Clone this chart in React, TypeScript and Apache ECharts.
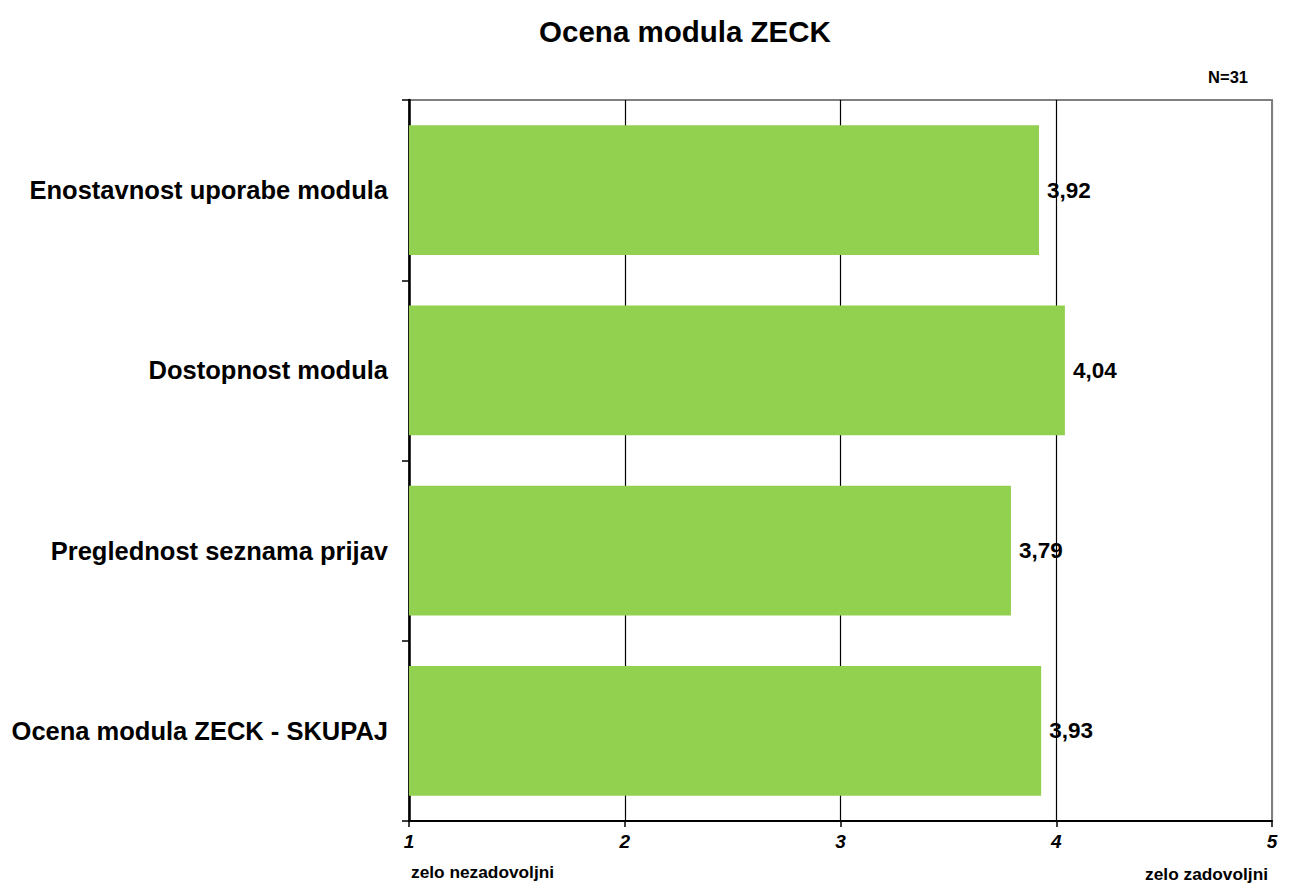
import React, { useEffect, useRef } from "react";
import * as echarts from "echarts";

const titleText = "Ocena modula ZECK";
const categories = [
  "Enostavnost uporabe modula",
  "Dostopnost modula",
  "Preglednost seznama prijav",
  "Ocena modula ZECK - SKUPAJ",
];
const values = [3.92, 4.04, 3.79, 3.93];
const xMin = 1;
const xMax = 5;
const xStep = 1;
const noteText = "N=31";
const lowText = "zelo nezadovoljni";
const highText = "zelo zadovoljni";

const FONT = "'Liberation Sans', Arial, sans-serif";

export default function App() {
  const ref = useRef<HTMLDivElement>(null);
  useEffect(() => {
    if (!ref.current) return;
    const chart = echarts.init(ref.current, null, { renderer: "svg" });
    chart.setOption({
      animation: false,
      backgroundColor: "#ffffff",
      textStyle: { fontFamily: FONT },
      title: {
        text: titleText,
        left: 680,
        textAlign: "center",
        top: 11,
        textStyle: { fontFamily: FONT, fontSize: 29.5, fontWeight: "bold", color: "#000" },
      },
      grid: {
        left: 409,
        top: 100,
        right: 18,
        bottom: 65,
        containLabel: false,
        show: true,
        borderColor: "#808080",
        borderWidth: 2,
        backgroundColor: "#ffffff",
      },
      xAxis: {
        type: "value",
        min: xMin,
        max: xMax,
        interval: xStep,
        axisLine: { show: true, lineStyle: { color: "#000", width: 2 } },
        axisTick: { show: true, length: 6, lineStyle: { color: "#000", width: 1.5 } },
        axisLabel: {
          margin: 11,
          fontFamily: FONT,
          fontSize: 19,
          fontWeight: "bold",
          fontStyle: "italic",
          color: "#000",
        },
        splitLine: {
          show: true,
          lineStyle: { color: ["#000", "#000", "#000", "#000", "#808080"], width: 1.2 },
        },
      },
      yAxis: {
        type: "category",
        data: categories,
        inverse: true,
        axisLine: { show: true, lineStyle: { color: "#000", width: 2.5 } },
        axisTick: { show: true, length: 7, inside: false, lineStyle: { color: "#000", width: 1.5 } },
        axisLabel: {
          margin: 21,
          fontFamily: FONT,
          fontSize: 25.5,
          fontWeight: "bold",
          color: "#000",
        },
        splitLine: { show: false },
      },
      series: [
        {
          type: "bar",
          data: values,
          barCategoryGap: "28%",
          itemStyle: { color: "#92d050" },
          label: {
            show: true,
            position: "right",
            distance: 8,
            fontFamily: FONT,
            fontSize: 22.5,
            fontWeight: "bold",
            color: "#000",
            formatter: (p: any) => Number(p.value).toFixed(2).replace(".", ","),
          },
        },
      ],
      graphic: [
        {
          type: "text",
          right: 42,
          top: 68,
          style: { text: noteText, font: `bold 16.5px ${FONT}`, fill: "#000" },
        },
        {
          type: "text",
          left: 411,
          top: 863,
          style: { text: lowText, font: `bold 17.3px ${FONT}`, fill: "#000" },
        },
        {
          type: "text",
          right: 22,
          top: 865,
          style: { text: highText, font: `bold 17.3px ${FONT}`, fill: "#000" },
        },
      ],
    });
    return () => chart.dispose();
  }, []);
  return (
    <div
      ref={ref}
      style={{ position: "fixed", left: 0, top: 0, width: 1290, height: 886, background: "#fff" }}
    />
  );
}
